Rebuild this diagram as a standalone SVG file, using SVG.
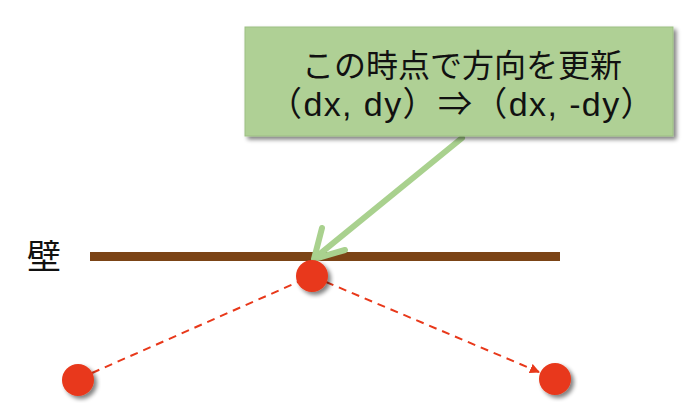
<svg xmlns="http://www.w3.org/2000/svg" width="690" height="416" viewBox="0 0 690 416">
<defs>
<filter id="sh" x="-20%" y="-20%" width="140%" height="140%"><feGaussianBlur in="SourceAlpha" stdDeviation="2"/><feOffset dx="3" dy="3"/><feComponentTransfer><feFuncA type="linear" slope="0.5"/></feComponentTransfer><feMerge><feMergeNode/><feMergeNode in="SourceGraphic"/></feMerge></filter>
<marker id="tri" markerWidth="10" markerHeight="10" refX="9" refY="5" orient="auto" markerUnits="userSpaceOnUse" viewBox="0 0 10 10"><path d="M0,0 L10,5 L0,10 z" fill="#E8381A"/></marker>
</defs>
<style>
.t{font-family:"Noto Sans CJK JP","Noto Sans",sans-serif;fill:#111}
.l{font-family:"Liberation Sans","Noto Sans CJK JP",sans-serif;fill:#111}
.dot{fill:#E8381A;filter:url(#sh)}
.dash{stroke:#E8381A;stroke-width:2;stroke-dasharray:8,6;fill:none}
</style>
<rect width="690" height="416" fill="#fff"/>
<g id="wall">
<line x1="90" y1="256.5" x2="560" y2="256.5" stroke="#7B4416" stroke-width="9"/>
<text class="t" x="27" y="269" font-size="34">壁</text>
</g>
<g id="connectors">
<line class="dash" x1="92" y1="373" x2="298" y2="282"/>
<line class="dash" x1="326" y1="282" x2="539" y2="372" marker-end="url(#tri)"/>
<g stroke="#A9D18E" stroke-width="6" stroke-linecap="round" fill="none">
<line x1="462" y1="138" x2="316" y2="257"/>
<polyline points="322,228 314,259 345,250" stroke-linejoin="round"/>
</g>
</g>
<g id="ball-top"><circle class="dot" cx="312" cy="276" r="16"/></g>
<g id="ball-left"><circle class="dot" cx="78" cy="380" r="16"/></g>
<g id="ball-right"><circle class="dot" cx="555" cy="379" r="16"/></g>
<g id="note">
<rect x="245" y="27" width="428" height="109" fill="#AFD095" stroke="#9DBF83" stroke-width="1" filter="url(#sh)"/>
<text class="t" x="462" y="77" font-size="32" text-anchor="middle">この時点で方向を更新</text>
<text class="l" x="462" y="116" font-size="34" letter-spacing="1.4" text-anchor="middle">（dx, dy）⇒（dx, -dy）</text>
</g>
</svg>
